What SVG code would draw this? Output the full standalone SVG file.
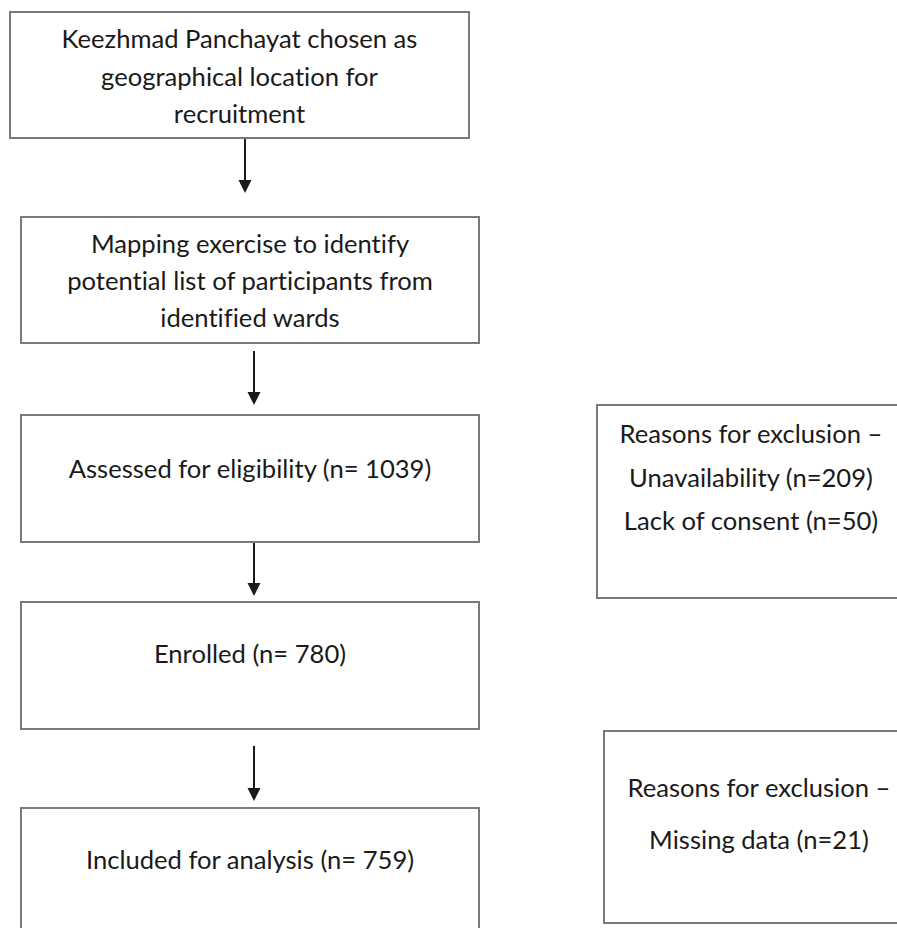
<svg xmlns="http://www.w3.org/2000/svg" width="897" height="928" viewBox="0 0 897 928">
<style>
.box{fill:#fff;stroke:#7a7a7a;stroke-width:2}
.t{font-family:Lato,"Open Sans","Liberation Sans",sans-serif;font-size:25.6px;fill:#1a1a1a;text-anchor:middle;font-variant-ligatures:none}
.c{stroke:#1a1a1a;stroke-width:2;fill:none}
.h{fill:#1a1a1a}
</style>
<rect width="897" height="928" fill="#fff"/>
<g id="connectors">
<line class="c" x1="245" y1="138" x2="245" y2="182"/><polygon class="h" points="238.5,180 251.5,180 245,193"/>
<line class="c" x1="254" y1="351" x2="254" y2="394"/><polygon class="h" points="247.5,392 260.5,392 254,405"/>
<line class="c" x1="254" y1="542" x2="254" y2="585"/><polygon class="h" points="247.5,583 260.5,583 254,596"/>
<line class="c" x1="254" y1="746" x2="254" y2="790"/><polygon class="h" points="247.5,788 260.5,788 254,801"/>
</g>
<g id="n1"><rect class="box" x="10" y="12" width="459" height="126"/>
<text class="t" x="239.5" y="48">Keezhmad Panchayat chosen as</text>
<text class="t" x="239.5" y="85.5">geographical location for</text>
<text class="t" x="239.5" y="123">recruitment</text></g>
<g id="n2"><rect class="box" x="21" y="217" width="458" height="126"/>
<text class="t" x="250" y="253">Mapping exercise to identify</text>
<text class="t" x="250" y="290">potential list of participants from</text>
<text class="t" x="250" y="327">identified wards</text></g>
<g id="n3"><rect class="box" x="21" y="415" width="458" height="127"/>
<text class="t" x="250" y="478">Assessed for eligibility (n= 1039)</text></g>
<g id="n4"><rect class="box" x="21" y="602" width="458" height="127"/>
<text class="t" x="250" y="663">Enrolled (n= 780)</text></g>
<g id="n5"><rect class="box" x="21" y="808" width="458" height="130"/>
<text class="t" x="250" y="869">Included for analysis (n= 759)</text></g>
<g id="n6"><rect class="box" x="597" y="405" width="310" height="193"/>
<text class="t" x="751" y="443">Reasons for exclusion –</text>
<text class="t" x="751" y="487">Unavailability (n=209)</text>
<text class="t" x="751" y="530">Lack of consent (n=50)</text></g>
<g id="n7"><rect class="box" x="604" y="731" width="310" height="192"/>
<text class="t" x="759" y="797">Reasons for exclusion –</text>
<text class="t" x="759" y="849">Missing data (n=21)</text></g>
</svg>
